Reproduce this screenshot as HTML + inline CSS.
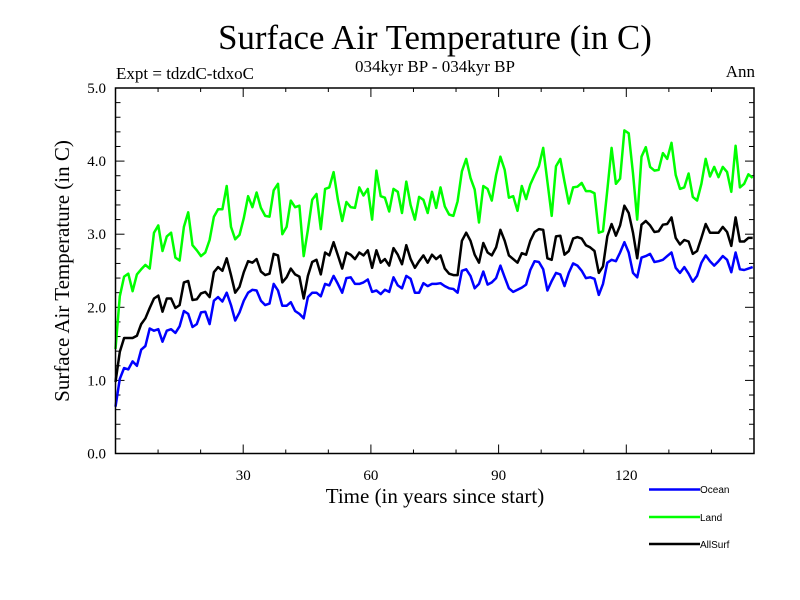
<!DOCTYPE html>
<html><head><meta charset="utf-8"><style>
body{margin:0;background:#fff}
svg{display:block;font-family:"Liberation Serif",serif}
</style></head><body>
<svg id="chart" width="800" height="600" viewBox="0 0 800 600">
<rect width="800" height="600" fill="#fff"/>
<text x="435" y="49" font-size="34.8" text-anchor="middle">Surface Air Temperature (in C)</text>
<text x="435" y="72" font-size="17" text-anchor="middle">034kyr BP - 034kyr BP</text>
<text x="116" y="79" font-size="17">Expt = tdzdC-tdxoC</text>
<text x="755" y="77" font-size="17" text-anchor="end">Ann</text>
<text x="0" y="0" font-size="21" text-anchor="middle" transform="translate(69,271) rotate(-90)">Surface Air Temperature (in C)</text>
<text x="435" y="503" font-size="21" text-anchor="middle">Time (in years since start)</text>
<g id="ticks"></g>
<g id="series"></g>
<rect x="115.5" y="88" width="638.5" height="365.5" fill="none" stroke="#000" stroke-width="1.5"/>
<g font-family="Liberation Sans, sans-serif" font-size="10">
<line x1="649" y1="489.5" x2="700" y2="489.5" stroke="#0000ff" stroke-width="2.5"/>
<text x="700" y="493">Ocean</text>
<line x1="649" y1="517" x2="700" y2="517" stroke="#00ff00" stroke-width="2.5"/>
<text x="700" y="521">Land</text>
<line x1="649" y1="544" x2="700" y2="544" stroke="#000" stroke-width="2.5"/>
<text x="700" y="548">AllSurf</text>
</g>
</svg>
<script>
const land=[1.43,2.15,2.42,2.46,2.22,2.45,2.52,2.58,2.53,3.02,3.12,2.77,2.97,3.02,2.68,2.64,3.1,3.3,2.85,2.78,2.7,2.75,2.92,3.24,3.34,3.34,3.66,3.1,2.93,2.99,3.22,3.52,3.37,3.57,3.36,3.25,3.24,3.6,3.69,3.0,3.1,3.46,3.37,3.39,2.7,3.06,3.47,3.55,3.07,3.62,3.64,3.85,3.47,3.18,3.44,3.37,3.36,3.64,3.53,3.62,3.2,3.87,3.52,3.5,3.31,3.62,3.58,3.29,3.72,3.4,3.2,3.51,3.47,3.29,3.58,3.36,3.64,3.38,3.27,3.25,3.45,3.86,4.03,3.77,3.61,3.16,3.66,3.62,3.46,3.81,4.06,3.88,3.5,3.52,3.32,3.66,3.48,3.68,3.81,3.93,4.18,3.72,3.25,3.93,4.03,3.72,3.42,3.64,3.65,3.7,3.59,3.59,3.56,3.02,3.04,3.6,4.18,3.69,3.76,4.42,4.38,3.83,3.2,4.06,4.19,3.92,3.87,3.88,4.11,4.03,4.25,3.81,3.62,3.64,3.83,3.51,3.46,3.69,4.03,3.79,3.92,3.78,3.92,3.85,3.58,4.21,3.64,3.69,3.82,3.77];
const allsurf=[0.98,1.39,1.58,1.58,1.58,1.61,1.77,1.85,1.99,2.12,2.16,1.94,2.12,2.12,1.99,2.03,2.34,2.36,2.1,2.11,2.19,2.21,2.14,2.48,2.55,2.5,2.67,2.44,2.2,2.28,2.48,2.63,2.61,2.66,2.49,2.44,2.46,2.73,2.71,2.34,2.41,2.53,2.45,2.42,2.12,2.43,2.62,2.65,2.45,2.75,2.71,2.89,2.71,2.53,2.75,2.72,2.66,2.75,2.71,2.78,2.54,2.78,2.61,2.66,2.57,2.81,2.72,2.59,2.85,2.66,2.54,2.63,2.71,2.61,2.72,2.66,2.71,2.53,2.46,2.44,2.44,2.91,3.02,2.91,2.72,2.61,2.88,2.75,2.71,2.82,3.06,2.91,2.71,2.66,2.61,2.74,2.72,2.91,3.03,3.07,3.06,2.67,2.65,2.97,2.98,2.72,2.77,2.94,2.96,2.94,2.85,2.82,2.77,2.47,2.56,2.97,3.14,2.98,3.12,3.39,3.29,3.02,2.67,3.13,3.18,3.12,3.03,3.04,3.13,3.14,3.23,2.95,2.86,2.92,2.9,2.73,2.77,2.95,3.14,3.02,3.02,3.02,3.1,3.03,2.84,3.23,2.9,2.9,2.95,2.95];
const ocean=[0.64,1.02,1.17,1.15,1.26,1.2,1.42,1.47,1.71,1.68,1.7,1.53,1.68,1.7,1.65,1.74,1.95,1.91,1.73,1.77,1.93,1.94,1.77,2.09,2.14,2.08,2.2,2.03,1.82,1.93,2.09,2.2,2.24,2.23,2.09,2.03,2.05,2.32,2.23,2.02,2.02,2.07,1.95,1.91,1.85,2.14,2.2,2.2,2.15,2.32,2.3,2.43,2.32,2.2,2.4,2.41,2.32,2.32,2.34,2.38,2.21,2.23,2.18,2.24,2.21,2.41,2.3,2.26,2.43,2.39,2.2,2.2,2.33,2.29,2.32,2.32,2.33,2.29,2.26,2.25,2.2,2.5,2.52,2.43,2.26,2.32,2.49,2.31,2.34,2.4,2.57,2.41,2.26,2.21,2.24,2.27,2.31,2.51,2.63,2.62,2.52,2.23,2.36,2.47,2.45,2.29,2.47,2.6,2.57,2.5,2.4,2.41,2.39,2.17,2.32,2.61,2.65,2.63,2.75,2.89,2.75,2.47,2.41,2.68,2.7,2.73,2.62,2.63,2.65,2.7,2.75,2.54,2.47,2.55,2.46,2.35,2.43,2.61,2.71,2.63,2.57,2.63,2.7,2.65,2.48,2.75,2.52,2.51,2.53,2.55];
const xTickLabels=[30,60,90,120];
const yTickLabels=["0.0","1.0","2.0","3.0","4.0","5.0"];
const NS='http://www.w3.org/2000/svg';
const X0=115.5,X1=754,Y0=453.5,Y1=88,XMAX=150,YMAX=5;
function xs(v){return X0+v*(X1-X0)/XMAX;}
function ys(v){return Y0-v*(Y0-Y1)/YMAX;}
const tg=document.getElementById('ticks');
function mk(tag,attrs,parent){const e=document.createElementNS(NS,tag);for(const k in attrs)e.setAttribute(k,attrs[k]);parent.appendChild(e);return e;}
for(let t=10;t<XMAX;t+=10){
  const major=t%30===0;const len=major?9:4;
  const l=mk('line',{x1:xs(t),x2:xs(t),y1:Y0,y2:Y0-len,stroke:'#000','stroke-width':1},tg);
  
  
  const l2=mk('line',{x1:xs(t),x2:xs(t),y1:Y1,y2:Y1+len,stroke:'#000','stroke-width':1},tg);
  
  
}
xTickLabels.forEach(v=>{
  const t=mk('text',{x:xs(v),y:480,'font-size':15,'text-anchor':'middle'},tg);t.textContent=v;
  
  
});
for(let i=1;i<25;i++){
  const v=i*0.2;const major=i%5===0;const len=major?9:5;
  const l=mk('line',{x1:X0,x2:X0+len,y1:ys(v),y2:ys(v),stroke:'#000','stroke-width':1},tg);
  
  
  const l2=mk('line',{x1:X1,x2:X1-len,y1:ys(v),y2:ys(v),stroke:'#000','stroke-width':1},tg);
  
  
}
yTickLabels.forEach(s=>{
  const t=mk('text',{x:106,y:ys(parseFloat(s))+5,'font-size':15,'text-anchor':'end'},tg);t.textContent=s;
  
  
});
const sg=document.getElementById('series');
function draw(arr,color,name){
  const n=arr.length;
  const d=arr.map((v,i)=>(i?'L':'M')+xs(i*XMAX/(n-0.7)).toFixed(1)+','+ys(v).toFixed(1)).join('');
  const p=mk('path',{d:d,fill:'none',stroke:color,'stroke-width':2.5,'stroke-linejoin':'round'},sg);
  
  
}
draw(land,'#00ff00','land-line');
draw(allsurf,'#000000','allsurf-line');
draw(ocean,'#0000ff','ocean-line');
</script>
</body></html>
